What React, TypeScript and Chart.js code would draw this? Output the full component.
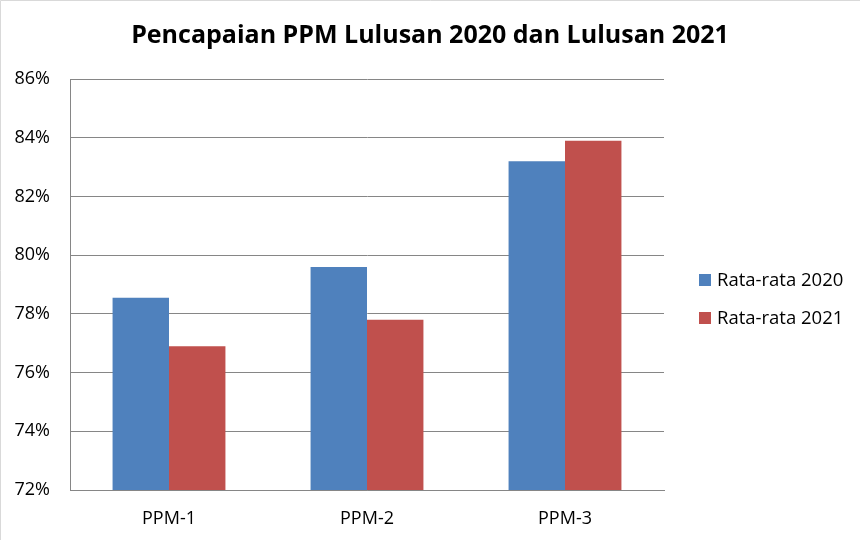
import React, { useEffect, useRef } from "react";
import { Chart, registerables } from "chart.js";

Chart.register(...registerables);

const categories = ["PPM-1", "PPM-2", "PPM-3"];
const series2020 = [78.55, 79.6, 83.2];
const series2021 = [76.9, 77.8, 83.9];
const seriesLabels = ["Rata-rata 2020", "Rata-rata 2021"];
const seriesColors = ["#4F81BD", "#C0504D"];
const yMin = 72;
const yMax = 86;
const yStep = 2;
const titleText = "Pencapaian PPM Lulusan 2020 dan Lulusan 2021";

const FONT = "'Open Sans', 'Liberation Sans', sans-serif";

const frameAndLegend = {
  id: "frameAndLegend",
  beforeDraw(chart: any) {
    const ctx = chart.ctx;
    ctx.save();
    ctx.fillStyle = "#ffffff";
    ctx.fillRect(0, 0, chart.width, chart.height);
    ctx.strokeStyle = "#d9d9d9";
    ctx.lineWidth = 1;
    ctx.beginPath();
    ctx.moveTo(0.5, chart.height);
    ctx.lineTo(0.5, 0.5);
    ctx.lineTo(chart.width, 0.5);
    ctx.stroke();
    ctx.restore();
  },
  afterDraw(chart: any) {
    const ctx = chart.ctx;
    const area = chart.chartArea;
    const mid = (area.top + area.bottom) / 2;
    const step = 38;
    const startY = mid - 4.5;
    const boxX = area.right + 35;
    ctx.save();
    ctx.font = `18.5px ${FONT}`;
    ctx.textBaseline = "middle";
    ctx.textAlign = "left";
    chart.data.datasets.forEach((ds: any, i: number) => {
      const cy = startY + i * step;
      ctx.fillStyle = ds.backgroundColor;
      ctx.fillRect(boxX, cy - 6, 12, 12);
      ctx.fillStyle = "#000000";
      ctx.fillText(ds.label, boxX + 18, cy + 1);
    });
    ctx.restore();
  },
};

export default function App() {
  const ref = useRef<HTMLCanvasElement | null>(null);

  useEffect(() => {
    if (!ref.current) return;
    const chart = new Chart(ref.current, {
      type: "bar",
      data: {
        labels: categories,
        datasets: [
          {
            label: seriesLabels[0],
            data: series2020,
            backgroundColor: seriesColors[0],
            borderWidth: 0,
          },
          {
            label: seriesLabels[1],
            data: series2021,
            backgroundColor: seriesColors[1],
            borderWidth: 0,
          },
        ],
      },
      options: {
        responsive: false,
        animation: false,
        devicePixelRatio: 1,
        layout: { padding: { left: 0, right: 0, top: 0, bottom: 0 } },
        datasets: {
          bar: { categoryPercentage: 0.57, barPercentage: 1 },
        },
        plugins: {
          legend: { display: false },
          tooltip: { enabled: false },
          title: {
            display: true,
            text: titleText,
            color: "#000000",
            font: { family: FONT, size: 25, weight: "bold" },
            padding: { top: 21, bottom: 28 },
          },
        },
        scales: {
          x: {
            afterFit: (s: any) => {
              s.height = 50;
            },
            grid: { display: false, drawTicks: false },
            border: { display: true, color: "#868686", width: 1 },
            ticks: {
              color: "#000000",
              padding: 18,
              font: { family: FONT, size: 18 },
            },
          },
          y: {
            min: yMin,
            max: yMax,
            afterFit: (s: any) => {
              s.width = 70;
            },
            grid: { color: "#868686", lineWidth: 1, drawTicks: false },
            border: { display: true, color: "#868686", width: 1 },
            ticks: {
              stepSize: yStep,
              color: "#000000",
              padding: 20,
              font: { family: FONT, size: 18 },
              callback: (v: any) => `${v}%`,
            },
          },
          legendSpace: {
            type: "linear",
            position: "right",
            display: true,
            afterFit: (s: any) => {
              s.width = 196;
            },
            grid: { display: false, drawTicks: false },
            border: { display: false },
            ticks: { display: false },
          },
        },
      },
      plugins: [frameAndLegend],
    });
    return () => chart.destroy();
  }, []);

  return (
    <div style={{ position: "absolute", left: 0, top: 0, width: 860, height: 540 }}>
      <canvas ref={ref} width={860} height={540} />
    </div>
  );
}
